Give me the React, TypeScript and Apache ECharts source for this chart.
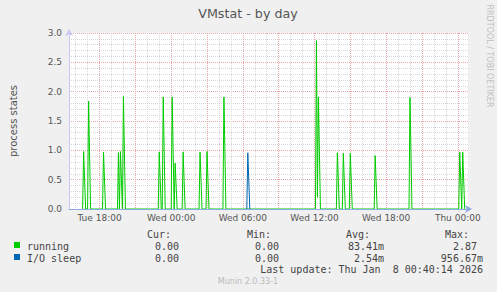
import React, { useEffect, useRef } from "react";
import * as echarts from "echarts";

// time unit: minutes since Tue 18:00
const X_MIN = -153.5;
const X_MAX = 1851.5;
const X_LABEL_VALUES = [0, 360, 720, 1080, 1440, 1800];
const X_LABELS = ["Tue 18:00", "Wed 00:00", "Wed 06:00", "Wed 12:00", "Wed 18:00", "Thu 00:00"];

// spikes of "running" (minute, value)
const RUN_MIN = [-80, -55, 20, 95, 105, 120, 300, 320, 365, 380, 420, 505, 540, 625, 1090, 1095, 1100, 1195, 1225, 1260, 1385, 1560, 1810, 1825];
const RUN_VAL = [0.98, 1.84, 0.97, 0.96, 0.98, 1.92, 0.97, 1.91, 1.91, 0.78, 0.97, 0.97, 0.98, 1.91, 2.87, 0.2, 1.91, 0.96, 0.95, 0.95, 0.91, 1.9, 0.97, 0.97];
// spikes of "I/O sleep"
const IO_MIN = [745];
const IO_VAL = [0.957];

const LEGEND_HEAD = ["Cur:", "Min:", "Avg:", "Max:"];
const RUN_STATS = ["0.00", "0.00", "83.41m", "2.87"];
const IO_STATS = ["0.00", "0.00", "2.54m", "956.67m"];

function buildSeries(mins: number[], vals: number[]) {
  const pts: [number, number][] = [];
  for (let i = 0; i < mins.length; i++) {
    const t = mins[i];
    const prev = pts.length ? pts[pts.length - 1][0] : -Infinity;
    if (prev < t - 5) pts.push([t - 5, 0]);
    pts.push([t, vals[i]]);
    const next = i + 1 < mins.length ? mins[i + 1] : Infinity;
    if (next > t + 10) pts.push([t + 10, 0]);
    else if (next > t + 5) pts.push([t + 5, 0]);
  }
  return pts;
}

export default function App() {
  const ref = useRef<HTMLDivElement>(null);
  useEffect(() => {
    if (!ref.current) return;
    const chart = echarts.init(ref.current, undefined, { renderer: "svg" });
    const hourVals: number[] = [];
    for (let h = -120; h <= 1800; h += 60) hourVals.push(h);
    const red3Vals: number[] = [];
    for (let h = 0; h <= 1800; h += 180) red3Vals.push(h);

    const sans = "DejaVu Sans";
    const mono = "DejaVu Sans Mono";
    const txt = (text: string, x: number, y: number, align: string, font: string, fill = "#444") => ({
      type: "text",
      x,
      y,
      silent: true,
      style: { text, align, verticalAlign: "middle", font, fill },
    });
    const colsHead = [171, 271, 370, 469];
    const colsVal = [179, 279, 384, 483];
    const colsRunVal = [179, 279, 384, 477];
    const graphics: any[] = [
      txt("VMstat - by day", 248, 13.5, "center", `12.7px ${sans}`, "#555"),
      {
        type: "text",
        x: 489,
        y: 56,
        rotation: -Math.PI / 2,
        silent: true,
        style: { text: "RRDTOOL / TOBI OETIKER", align: "center", verticalAlign: "middle", font: `8px ${sans}`, fill: "#c0c0c0" },
      },
      { type: "rect", shape: { x: 14, y: 242, width: 6, height: 6 }, style: { fill: "#00cc00" } },
      { type: "rect", shape: { x: 14, y: 254, width: 6, height: 6 }, style: { fill: "#0066b3" } },
      txt("running", 27, 246, "left", `10px ${mono}`),
      txt("I/O sleep", 27, 258, "left", `10px ${mono}`),
      txt("Last update: Thu Jan \u00a08 00:40:14 2026", 483, 269.5, "right", `10px ${mono}`),
      txt("Munin 2.0.33-1", 248, 281, "center", `8px ${sans}`, "#bbbbbb"),
    ];
    LEGEND_HEAD.forEach((h, i) => graphics.push(txt(h, colsHead[i], 234.5, "right", `10px ${mono}`)));
    RUN_STATS.forEach((s, i) => graphics.push(txt(s, colsRunVal[i], 246, "right", `10px ${mono}`)));
    IO_STATS.forEach((s, i) => graphics.push(txt(s, colsVal[i], 258, "right", `10px ${mono}`)));

    const dotted = (color: string) => ({ show: true, lineStyle: { color, width: 1, type: [1, 1] as any } });

    chart.setOption({
      animation: false,
      backgroundColor: "#f0f0f0",
      grid: {
        left: 67,
        right: 29,
        top: 33,
        bottom: 83,
        show: true,
        backgroundColor: "#ffffff",
        borderWidth: 0,
      },
      xAxis: [
        {
          type: "value",
          position: "bottom",
          offset: 0,
          min: X_MIN,
          max: X_MAX,
          axisLine: { show: false },
          axisTick: { show: false, customValues: hourVals },
          axisLabel: { show: false },
          splitLine: dotted("#d8d8d8"),
        },
        {
          type: "value",
          position: "bottom",
          offset: 0,
          min: X_MIN,
          max: X_MAX,
          axisLine: { show: false },
          axisTick: { show: false, customValues: red3Vals },
          axisLabel: {
            show: true,
            customValues: X_LABEL_VALUES,
            formatter: (v: number) => {
              const i = X_LABEL_VALUES.indexOf(Math.round(v));
              return i >= 0 ? X_LABELS[i] : "";
            },
            color: "#555",
            fontFamily: sans,
            fontSize: 9,
            margin: 4,
          },
          splitLine: dotted("#eaa6a6"),
        },
        {
          type: "value",
          position: "bottom",
          offset: 0,
          min: X_MIN,
          max: X_MAX,
          z: 5,
          axisLine: {
            show: true,
            onZero: false,
            lineStyle: { color: "#8fa9e3", width: 1 },
            symbol: ["none", "arrow"],
            symbolSize: [6, 7],
            symbolOffset: [0, 4],
          },
          axisTick: { show: false },
          axisLabel: { show: false },
          splitLine: { show: false },
        },
      ],
      yAxis: {
        type: "value",
        min: 0,
        max: 3,
        interval: 0.5,
        name: "process states",
        nameLocation: "middle",
        nameGap: 51,
        nameTextStyle: { color: "#555", fontFamily: sans, fontSize: 10 },
        axisLine: {
          show: true,
          onZero: false,
          lineStyle: { color: "#c8c8f4", width: 1 },
          symbol: ["none", "arrow"],
          symbolSize: [6, 7],
          symbolOffset: [0, 4],
        },
        axisTick: { show: false },
        axisLabel: {
          color: "#555",
          fontFamily: sans,
          fontSize: 9,
          margin: 7,
          formatter: (v: number) => v.toFixed(1),
        },
        splitLine: dotted("#eaa6a6"),
        minorTick: { show: false, splitNumber: 5 },
        minorSplitLine: dotted("#d8d8d8"),
      },
      series: [
        {
          name: "running",
          type: "line",
          xAxisIndex: 1,
          data: buildSeries(RUN_MIN, RUN_VAL),
          showSymbol: false,
          symbol: "none",
          lineStyle: { color: "#00cc00", width: 1 },
          itemStyle: { color: "#00cc00" },
        },
        {
          name: "I/O sleep",
          type: "line",
          xAxisIndex: 1,
          data: buildSeries(IO_MIN, IO_VAL),
          showSymbol: false,
          symbol: "none",
          lineStyle: { color: "#0066b3", width: 1 },
          itemStyle: { color: "#0066b3" },
        },
      ],
      graphic: graphics,
    });
    return () => chart.dispose();
  }, []);
  return <div ref={ref} style={{ position: "absolute", left: 0, top: 0, width: 497, height: 292 }} />;
}
